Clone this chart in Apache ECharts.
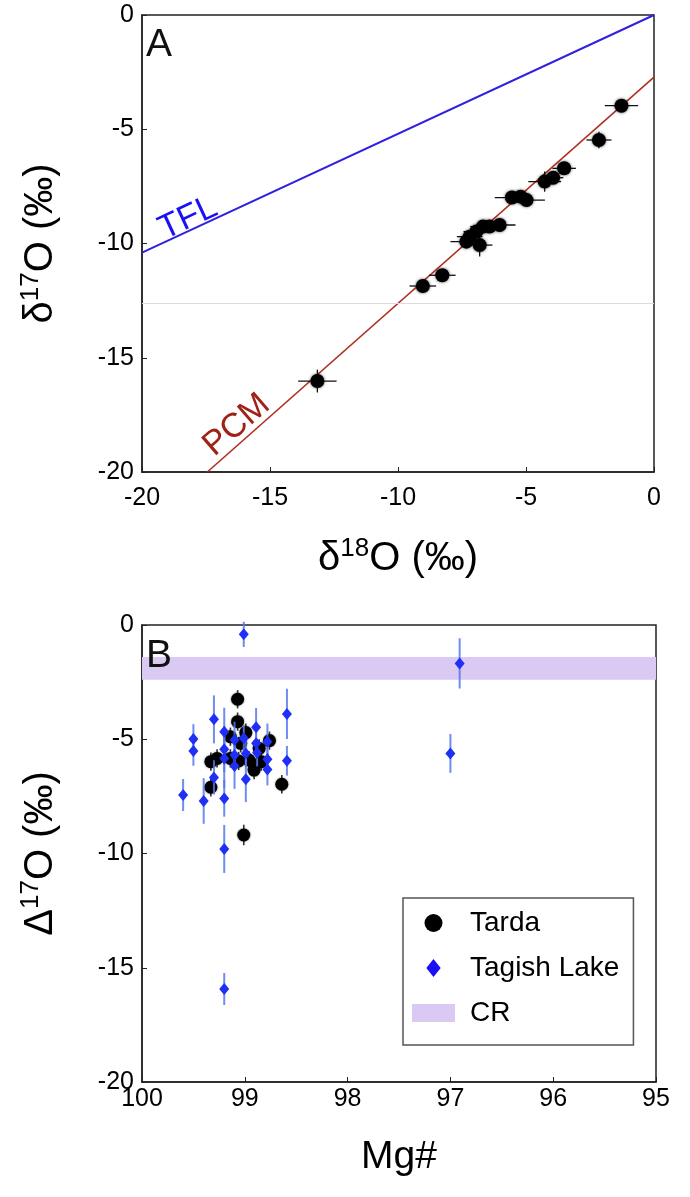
<!DOCTYPE html>
<html>
<head>
<meta charset="utf-8">
<script src="https://cdn.jsdelivr.net/npm/echarts@6/dist/echarts.min.js"></script>
<style>
html,body{margin:0;padding:0;background:#fff;}
#main{width:690px;height:1197px;}
</style>
</head>
<body>
<div id="main"></div>
<script>
// ---------- Panel A data ----------
const d18O    = [-1.27,-2.15,-3.51,-3.94,-4.27,-4.98,-5.21,-5.55,-6.03,-6.42,-6.68,-6.94,-7.20,-7.33,-6.81,-8.27,-9.03,-13.15];
const d17O    = [-3.97,-5.47,-6.71,-7.12,-7.29,-8.10,-7.95,-7.99,-9.19,-9.26,-9.26,-9.48,-9.70,-9.92,-10.07,-11.39,-11.86,-16.02];
const d18OErr = [0.65,0.49,0.46,0.40,0.64,0.72,0.40,0.67,0.62,0.50,0.50,0.50,0.50,0.62,0.50,0.52,0.52,0.75];
const d17OErr = [0.15,0.36,0.15,0.20,0.44,0.20,0.15,0.20,0.20,0.20,0.20,0.20,0.20,0.20,0.50,0.15,0.15,0.50];
const tflLine = [[-20,-10.4],[0,0]];
const pcmLine = [[-17.45,-20],[0,-2.72]];
const grayLineY = -12.6;
const tflLabelPos = [-18.2,-8.9];
const pcmLabelPos = [-16.3,-17.95];
const ticksA = [-20,-15,-10,-5,0];

// ---------- Panel B data ----------
const tardaMg  = [99.07,99.07,99.14,98.99,99.04,98.86,98.76,99.33,99.27,99.14,99.06,98.96,98.84,98.91,99.33,98.64,99.01];
const tardaD17 = [-3.25,-4.23,-4.89,-4.71,-5.18,-5.40,-5.06,-5.98,-5.84,-5.84,-5.95,-5.91,-5.98,-6.35,-7.10,-6.97,-9.19];
const tardaErr = [0.40,0.40,0.40,0.40,0.40,0.40,0.40,0.40,0.40,0.40,0.40,0.40,0.40,0.40,0.40,0.40,0.45];
const tagishMg  = [99.01,96.91,97.00,99.50,99.50,99.60,99.40,99.30,99.30,99.20,99.20,99.20,99.20,99.20,99.20,99.10,99.10,99.10,98.99,98.99,98.89,98.89,98.88,98.78,98.78,98.78,98.59,98.59,99.01];
const tagishD17 = [-0.41,-1.68,-5.62,-4.99,-5.51,-7.44,-7.70,-4.13,-6.67,-4.67,-5.44,-5.84,-7.59,-9.80,-15.93,-5.03,-5.69,-6.17,-5.62,-6.75,-4.48,-5.18,-5.59,-5.11,-5.88,-6.32,-3.89,-5.94,-4.96];
const tagishErr = [0.55,1.10,0.85,0.65,0.65,0.70,1.00,1.05,0.75,1.05,1.00,1.30,0.80,1.05,0.70,0.80,0.70,1.00,0.60,1.00,0.85,0.60,0.60,0.80,0.60,0.70,1.10,0.65,0.60];
const crBand = [-1.4,-2.4];
const ticksBx = [100,99,98,97,96,95];

const FONT = "'Liberation Sans', Arial, Helvetica, sans-serif";
const chart = echarts.init(document.getElementById('main'), null, {renderer:'canvas'});

function errRender(xDim, yDim, exDim, eyDim, color, width) {
  return function(params, api) {
    const x = api.value(xDim), y = api.value(yDim);
    const ex = exDim == null ? 0 : api.value(exDim);
    const ey = eyDim == null ? 0 : api.value(eyDim);
    const children = [];
    if (ex > 0) {
      const p1 = api.coord([x-ex, y]), p2 = api.coord([x+ex, y]);
      children.push({type:'line', shape:{x1:p1[0],y1:p1[1],x2:p2[0],y2:p2[1]}, style:{stroke:color,lineWidth:width}});
    }
    if (ey > 0) {
      const p1 = api.coord([x, y-ey]), p2 = api.coord([x, y+ey]);
      children.push({type:'line', shape:{x1:p1[0],y1:p1[1],x2:p2[0],y2:p2[1]}, style:{stroke:color,lineWidth:width}});
    }
    return {type:'group', children};
  };
}

const tickLabel = {fontSize:25, color:'#000', fontFamily:FONT};
const nameRich = {
  t:{fontSize:40, fontFamily:FONT, color:'#000', lineHeight:46},
  s:{fontSize:26, fontFamily:FONT, color:'#000', lineHeight:30, verticalAlign:'top'}
};
const diamondPath = 'path://M0,-1L0.8,0L0,1L-0.8,0Z';

const option = {
  animation:false,
  backgroundColor:'#fff',
  title:[
    {text:'A', left:146, top:26, padding:0, textStyle:{fontSize:39, fontWeight:'normal', color:'#111', fontFamily:FONT}},
    {text:'B', left:146, top:637, padding:0, textStyle:{fontSize:39, fontWeight:'normal', color:'#111', fontFamily:FONT}}
  ],
  grid:[
    {left:142, top:15, width:512, height:457, show:true, borderColor:'#222', borderWidth:1.5, backgroundColor:'transparent'},
    {left:142, top:625, width:514, height:457, show:true, borderColor:'#222', borderWidth:1.5, backgroundColor:'transparent'}
  ],
  xAxis:[
    {type:'value', gridIndex:0, min:ticksA[0], max:ticksA[ticksA.length-1], interval:5,
     name:'{t|δ}{s|18}{t|O (‰)}', nameLocation:'middle', nameGap:64, nameTextStyle:{rich:nameRich},
     axisLine:{show:true, onZero:false, lineStyle:{color:'#222', width:1.5}},
     axisTick:{show:true, inside:true, length:5, lineStyle:{color:'#222'}},
     axisLabel:Object.assign({margin:14}, tickLabel), splitLine:{show:false}},
    {type:'value', gridIndex:1, min:95, max:100, interval:1, inverse:true,
     name:'Mg#', nameLocation:'middle', nameGap:56, nameTextStyle:{fontSize:39, color:'#000', fontFamily:FONT},
     axisLine:{show:true, onZero:false, lineStyle:{color:'#222', width:1.5}},
     axisTick:{show:true, inside:true, length:5, lineStyle:{color:'#222'}},
     axisLabel:Object.assign({margin:5}, tickLabel), splitLine:{show:false}}
  ],
  yAxis:[
    {type:'value', gridIndex:0, min:-20, max:0, interval:5,
     name:'{t|δ}{s|17}{t|O (‰)}', nameLocation:'middle', nameGap:78, nameTextStyle:{rich:nameRich},
     axisLine:{show:true, onZero:false, lineStyle:{color:'#222', width:1.5}},
     axisTick:{show:true, inside:true, length:5, lineStyle:{color:'#222'}},
     axisLabel:Object.assign({margin:8}, tickLabel), splitLine:{show:false}},
    {type:'value', gridIndex:1, min:-20, max:0, interval:5,
     name:'{t|Δ}{s|17}{t|O (‰)}', nameLocation:'middle', nameGap:78, nameTextStyle:{rich:nameRich},
     axisLine:{show:true, onZero:false, lineStyle:{color:'#222', width:1.5}},
     axisTick:{show:true, inside:true, length:5, lineStyle:{color:'#222'}},
     axisLabel:Object.assign({margin:8}, tickLabel), splitLine:{show:false}}
  ],
  legend:{
    left:403, top:898, orient:'vertical',
    padding:[11,14,18,9], itemGap:17, itemWidth:43, itemHeight:18, symbolKeepAspect:true,
    borderColor:'#555', borderWidth:1.5, backgroundColor:'#fff',
    textStyle:{fontSize:28, color:'#000', fontFamily:FONT, lineHeight:28, padding:[0,0,0,10]},
    data:[{name:'Tarda', icon:'circle'},{name:'Tagish Lake', icon:diamondPath, itemStyle:{color:'#1a10f2'}},{name:'CR', icon:'rect'}],
    selectedMode:false
  },
  series:[
    // Panel A
    {type:'line', name:'TFL', xAxisIndex:0, yAxisIndex:0, data:tflLine, symbol:'none',
     lineStyle:{color:'#3020e0', width:2}, z:2, silent:true,
     markLine:{silent:true, symbol:'none', label:{show:false}, lineStyle:{color:'#dcdcdc', width:1, type:'solid'}, data:[{yAxis:grayLineY}]}},
    {type:'line', name:'PCM', xAxisIndex:0, yAxisIndex:0, data:pcmLine, symbol:'none',
     lineStyle:{color:'#b02e1e', width:1.6}, z:2, silent:true},
    {type:'scatter', name:'lineLabels', xAxisIndex:0, yAxisIndex:0, symbolSize:0, silent:true,
     itemStyle:{opacity:1},
     data:[
       {value:tflLabelPos, label:{show:true, formatter:'TFL', rotate:25, position:'inside', fontSize:34, color:'#1a0ff5', textBorderWidth:0, opacity:1, fontFamily:FONT}},
       {value:pcmLabelPos, label:{show:true, formatter:'PCM', rotate:41, position:'inside', fontSize:34, color:'#9e2216', textBorderWidth:0, opacity:1, fontFamily:FONT}}
     ]},
    {type:'custom', name:'errA', xAxisIndex:0, yAxisIndex:0, silent:true, z:3,
     renderItem:errRender(0,1,2,3,'#111',1.3),
     data:d18O.map((v,i)=>[v,d17O[i],d18OErr[i],d17OErr[i]])},
    {type:'scatter', name:'pointsA', xAxisIndex:0, yAxisIndex:0, symbol:'circle', symbolSize:14, z:4,
     itemStyle:{color:'#000', opacity:1, shadowBlur:3, shadowColor:'rgba(0,0,0,0.7)'},
     data:d18O.map((v,i)=>[v,d17O[i]])},
    // Panel B
    {type:'custom', name:'CR', xAxisIndex:1, yAxisIndex:1, silent:true, z:1,
     itemStyle:{color:'#d9c9f3'},
     renderItem:function(params, api){
       const p1 = api.coord([api.value(0), api.value(1)]);
       const p2 = api.coord([api.value(2), api.value(3)]);
       return {type:'rect', shape:{x:Math.min(p1[0],p2[0]), y:Math.min(p1[1],p2[1]), width:Math.abs(p2[0]-p1[0]), height:Math.abs(p2[1]-p1[1])}, style:{fill:'#d9c9f3'}};
     },
     data:[[100, crBand[0], 95, crBand[1]]]},
    {type:'custom', name:'tardaErr', xAxisIndex:1, yAxisIndex:1, silent:true, z:3,
     renderItem:errRender(0,1,null,2,'#333',1.6),
     data:tardaMg.map((v,i)=>[v,tardaD17[i],tardaErr[i]])},
    {type:'scatter', name:'Tarda', xAxisIndex:1, yAxisIndex:1, symbol:'circle', symbolSize:13, z:4,
     itemStyle:{color:'#000', opacity:1, shadowBlur:2, shadowColor:'rgba(0,0,0,0.6)'},
     data:tardaMg.map((v,i)=>[v,tardaD17[i]])},
    {type:'custom', name:'tagishErr', xAxisIndex:1, yAxisIndex:1, silent:true, z:5,
     renderItem:errRender(0,1,null,2,'rgba(85,120,240,0.85)',2),
     data:tagishMg.map((v,i)=>[v,tagishD17[i],tagishErr[i]])},
    {type:'scatter', name:'Tagish Lake', xAxisIndex:1, yAxisIndex:1, symbol:'diamond', symbolSize:[10,12], z:6,
     itemStyle:{color:'#1f2ff5', opacity:1},
     data:tagishMg.map((v,i)=>[v,tagishD17[i]])}
  ]
};
chart.setOption(option);
</script>
</body>
</html>
